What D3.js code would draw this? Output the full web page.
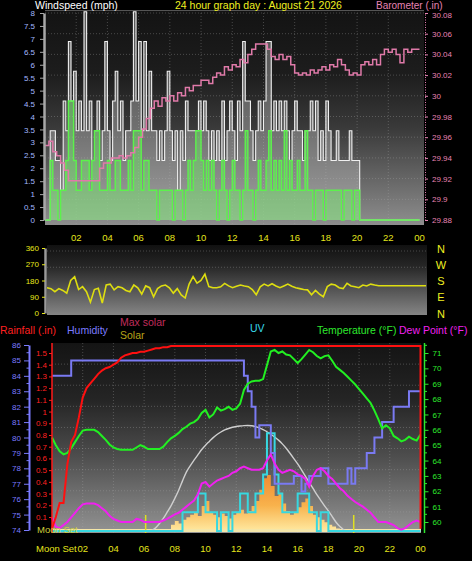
<!DOCTYPE html>
<html><head><meta charset="utf-8">
<script src="https://cdn.jsdelivr.net/npm/d3@7/dist/d3.min.js"></script>
<style>
html,body{margin:0;padding:0;background:#000;}
svg{display:block;}
text{font-family:"Liberation Sans",Arial,sans-serif;}
</style></head><body>
<svg id="chart" width="472" height="561"></svg>
<script>
// ================= DATA =================
const windStepMinutes = 10;
const windGust = [
0,0,3.45,3.45,2.3,2.3,1.15,4.6,3.45,6.9,
4.6,5.75,3.45,4.6,3.45,8.05,3.45,4.6,2.3,3.45,
4.6,2.3,3.45,6.9,3.45,2.3,4.6,5.75,3.45,4.6,
2.3,3.45,3.45,4.6,8.05,4.6,6.9,3.45,6.9,3.45,
5.75,3.45,3.45,2.3,3.45,2.3,3.45,5.75,3.45,2.3,
3.45,1.15,3.45,2.3,4.6,3.45,3.45,3.45,3.45,4.6,
3.45,4.6,3.45,2.3,3.45,2.3,3.45,2.3,4.6,2.3,
3.45,4.6,3.45,2.3,4.6,3.45,6.9,4.6,4.6,3.45,
2.3,3.45,4.6,3.45,4.6,6.9,6.9,3.45,4.6,3.45,
4.6,3.45,4.6,3.45,2.3,3.45,4.6,3.45,3.45,2.3,
3.45,3.45,4.6,3.45,4.6,2.3,3.45,2.3,4.6,3.45,
2.3,2.3,3.45,2.3,2.3,2.3,2.3,3.45,2.3,2.3,
2.3,0,0,0,0,0,0,0,0,0,
0,0,0,0,0,0,0,0,0,0,
0,0,0,0,0];
const windAvg = [
0,0,2.3,1.15,1.15,0,1.15,1.15,2.3,4.6,
4.6,2.3,1.15,1.15,2.3,2.3,2.3,1.15,2.3,3.45,
3.45,1.15,1.15,1.15,2.3,1.15,1.15,2.3,2.3,1.15,
1.15,1.15,2.3,1.15,3.45,3.45,3.45,1.15,2.3,2.3,
1.15,1.15,1.15,0,1.15,1.15,1.15,1.15,1.15,0,
1.15,1.15,1.15,0,1.15,2.3,1.15,2.3,3.45,3.45,
2.3,1.15,2.3,1.15,2.3,1.15,0,1.15,2.3,1.15,
0,1.15,2.3,1.15,1.15,0,1.15,3.45,1.15,1.15,
0,1.15,2.3,1.15,1.15,2.3,3.45,1.15,2.3,1.15,
2.3,1.15,3.45,1.15,2.3,1.15,1.15,2.3,1.15,1.15,
3.45,1.15,1.15,0,1.15,1.15,1.15,0,1.15,1.15,
1.15,1.15,1.15,1.15,0,1.15,1.15,1.15,0,1.15,
1.15,0,0,0,0,0,0,0,0,0,
0,0,0,0,0,0,0,0,0,0,
0,0,0,0,0];

const stepMinutes = 15;
const barometer = [
29.952,29.956,29.946,29.942,29.935,29.928,29.918,29.918,29.918,29.918,
29.918,29.918,29.918,29.918,29.930,29.935,29.935,29.940,29.940,29.942,
29.940,29.942,29.945,29.950,29.960,29.968,29.978,29.988,29.995,29.990,
29.998,29.995,30.000,29.995,30.003,30.000,30.008,30.005,30.010,30.010,
30.015,30.015,30.012,30.018,30.022,30.020,30.028,30.025,30.030,30.028,
30.035,30.032,30.040,30.045,30.050,30.050,30.050,30.045,30.038,30.035,
30.040,30.035,30.038,30.030,30.022,30.020,30.022,30.020,30.025,30.022,
30.025,30.028,30.025,30.030,30.028,30.035,30.030,30.025,30.020,30.022,
30.020,30.030,30.033,30.030,30.035,30.030,30.040,30.045,30.042,30.045,
30.040,30.032,30.045,30.042,30.045,30.045,30.045];

const windDirection = [
140,135,118,135,125,110,180,201,130,146,
118,60,130,137,55,155,160,128,146,140,
125,118,155,140,105,150,140,90,135,150,
155,140,110,135,100,83,160,201,165,180,
215,146,140,140,145,164,150,140,148,155,
150,146,130,101,145,160,150,162,150,140,
150,160,148,140,135,130,128,101,125,105,
90,146,160,155,140,135,164,150,145,140,
155,150,160,155,151,151,151,151,151,151,
151,151,151,151,151,151,151];

const rainfall = [
0,0.10,0.22,0.22,0.55,0.74,0.80,0.95,1.12,1.20,
1.24,1.28,1.32,1.35,1.37,1.38,1.40,1.42,1.46,1.48,
1.49,1.50,1.50,1.51,1.51,1.52,1.53,1.54,1.54,1.55,
1.55,1.56,1.56,1.56,1.56,1.56,1.56,1.56,1.56,1.56,
1.56,1.56,1.56,1.56,1.56,1.56,1.56,1.56,1.56,1.56,
1.56,1.56,1.56,1.56,1.56,1.56,1.56,1.56,1.56,1.56,
1.56,1.56,1.56,1.56,1.56,1.56,1.56,1.56,1.56,1.56,
1.56,1.56,1.56,1.56,1.56,1.56,1.56,1.56,1.56,1.56,
1.56,1.56,1.56,1.56,1.56,1.56,1.56,1.56,1.56,1.56,
1.56,1.56,1.56,1.56,1.56,1.56,1.56];
const rainfallAfterReset = 0;

const humidity = [
84,84,84,84,84,85,85,85,85,85,
85,85,85,85,85,85,85,85,85,85,
85,85,85,85,85,85,85,85,85,85,
85,85,85,85,85,85,85,85,85,85,
85,85,85,85,85,85,85,85,85,85,
84,83,82,80,80.8,80.8,80.8,79,77,77,
77,77,77,77.5,77.5,76.5,77,77.5,77.5,77.5,
78,78,77,77,77,77,77,78,77,78,
78,78,79,79,80,80,81,81,81,82,
82,82,82,83,83,83,83];

const temperature = [
65.5,65.0,64.6,64.4,64.5,64.8,65.2,65.6,65.95,66.0,
66.0,66.0,65.85,65.6,65.35,65.05,64.85,64.75,64.7,64.7,
64.7,64.7,64.85,65.0,64.9,64.75,64.75,64.75,64.75,64.9,
65.2,65.45,65.6,65.8,66.05,66.2,66.4,66.5,66.7,67.1,
67.3,66.8,67.0,67.45,67.25,67.35,67.5,67.3,67.4,67.7,
68.6,69.0,69.15,69.2,69.2,69.3,70.2,71.1,71.2,71.0,
71.1,70.9,70.85,70.6,70.35,70.6,70.9,71.2,71.05,70.8,
70.65,70.8,70.85,70.5,70.1,69.9,69.7,69.45,69.2,68.95,
68.65,68.35,68.05,67.75,67.25,66.7,66.1,66.3,66.1,65.6,
65.45,65.25,65.35,65.55,65.4,65.3,65.7];

const dewPoint = [
60.3,59.7,59.6,59.8,60.0,60.3,60.6,60.9,61.15,61.2,
61.2,61.2,61.1,60.9,60.7,60.4,60.2,60.1,60.0,60.0,
60.0,60.0,60.2,60.15,60.0,60.0,60.0,60.0,60.0,60.1,
60.2,60.35,60.5,60.6,60.8,61.0,61.2,61.4,61.8,62.5,
62.6,62.3,62.5,62.7,62.8,62.9,63.0,63.2,63.3,63.5,
63.6,63.5,63.4,63.4,63.4,63.5,64.0,64.4,63.8,63.4,
63.2,63.3,63.4,63.3,63.1,63.0,62.8,62.3,63.0,63.4,
63.5,63.3,63.0,62.8,62.5,62.2,62.0,61.7,61.5,61.3,
61.15,61.0,60.8,60.6,60.3,60.0,60.0,60.0,59.9,59.8,
59.6,59.5,59.6,59.8,60.0,60.1,60.0];

const maxSolar = [
0,0,0,0,0,0,0,0,0,0,
0,0,0,0,0,0,0,0,0,0,
0,0,0,0,0,0,5,25,60,100,
150,200,260,325,400,470,520,565,608,650,
685,715,745,770,790,806,818,828,834,838,
841,842,840,833,822,808,792,772,750,725,
695,660,620,578,535,487,438,388,340,290,
245,200,160,115,70,35,10,0,0,0,
0,0,0,0,0,0,0,0,0,0,
0,0,0,0,0,0,0];

const solar = [
0,0,0,0,0,0,0,0,0,0,
0,0,0,0,0,0,0,0,0,0,
0,0,0,0,0,0,0,0,0,0,
15,50,80,60,90,110,130,150,120,200,
240,150,130,110,140,120,100,130,150,170,
140,160,200,240,330,420,447,360,280,300,
220,160,130,150,190,230,260,200,130,110,
90,70,50,35,20,10,0,0,0,0,
0,0,0,0,0,0,0,0,0,0,
0,0,0,0,0,0,0];

const uvIndex = [
0,0,0,0,0,0,0,0,0,0,
0,0,0,0,0,0,0,0,0,0,
0,0,0,0,0,0,0,0,0,0,
0,0,0,0,1,1,1,1,2,2,
1,1,1,0,1,1,0,1,1,2,
2,1,1,2,2,3,5.2,5.2,3,2,
1,1,1,1,2,2,2,1,1,0,
1,1,0,0,0,0,0,0,0,0,
0,0,0,0,0,0,0,0,0,0,
0,0,0,0,0,0,0];

const sunEvents = [6.1, 19.65];
const hourTicks = [2,4,6,8,10,12,14,16,18,20,22,24];
const hourLabels = ['02','04','06','08','10','12','14','16','18','20','22','00'];
const windTicks = [0,0.5,1,1.5,2,2.5,3,3.5,4,4.5,5,5.5,6,6.5,7,7.5,8];
const baroTicks = [29.88,29.9,29.92,29.94,29.96,29.98,30,30.02,30.04,30.06,30.08];
const dirTicks = [0,90,180,270,360];
const dirLetters = ['N','W','S','E','N'];
const dirLetterDeg = [360,270,180,90,0];
const humTicks = [74,75,76,77,78,79,80,81,82,83,84,85,86];
const rainTicks = [0.1,0.2,0.3,0.4,0.5,0.6,0.7,0.8,0.9,1,1.1,1.2,1.3,1.4,1.5];
const tempTicks = [60,61,62,63,64,65,66,67,68,69,70,71];

// ================= DRAW =================
const FONT = '"Liberation Sans",Arial,sans-serif';
const svg = d3.select('#chart');
svg.append('rect').attr('width',472).attr('height',561).attr('fill','#000');
const defs = svg.append('defs');
function vGrad(id, y1, y2, stops){
  const g = defs.append('linearGradient').attr('id',id).attr('gradientUnits','userSpaceOnUse')
    .attr('x1',0).attr('x2',0).attr('y1',y1).attr('y2',y2);
  stops.forEach(s=>g.append('stop').attr('offset',s[0]).attr('stop-color',s[1]));
}
vGrad('gTop',10,225,[[0,'#131313'],[0.3,'#1d1d1d'],[0.55,'#3a3a3a'],[1,'#8e8e8e']]);
vGrad('gDir',245,315,[[0,'#111'],[0.3,'#262626'],[1,'#858585']]);
vGrad('gBot',343,533,[[0,'#141414'],[0.3,'#252525'],[0.6,'#4e4e4e'],[1,'#939393']]);
vGrad('gSolar',474,531,[[0,'#f08a30'],[0.55,'#f8b24c'],[1,'#ffe9a0']]);

const hW = i => i*windStepMinutes/60;
const hS = i => i*stepMinutes/60;

// ---------- TOP: wind + barometer ----------
const xTop = d3.scaleLinear([0,24],[45,419.5]);
const yWind = d3.scaleLinear([0,8],[220,13]);
const yBaro = d3.scaleLinear([29.88,30.08],[220,13]);
svg.append('rect').attr('x',45).attr('y',10).attr('width',379).attr('height',215).attr('fill','url(#gTop)');
const gridC = 'rgba(170,170,170,0.35)';
const gTopGrid = svg.append('g');
gTopGrid.selectAll('line.v').data(hourTicks.slice(0,-1)).join('line')
  .attr('x1',d=>xTop(d)).attr('x2',d=>xTop(d)).attr('y1',10).attr('y2',225)
  .attr('stroke',gridC).attr('stroke-dasharray','1,2');
gTopGrid.selectAll('line.h').data(baroTicks.slice(1)).join('line')
  .attr('x1',45).attr('x2',424).attr('y1',d=>yBaro(d)).attr('y2',d=>yBaro(d))
  .attr('stroke',gridC).attr('stroke-dasharray','1,2');
svg.append('line').attr('x1',45).attr('x2',424).attr('y1',10.5).attr('y2',10.5).attr('stroke','#555');

const gustArea = d3.area().x((d,i)=>xTop(hW(i))).y0(yWind(0)).y1(d=>yWind(d)).curve(d3.curveStepAfter);
const gustLine = d3.line().x((d,i)=>xTop(hW(i))).y(d=>yWind(d)).curve(d3.curveStepAfter);
svg.append('path').attr('d',gustArea(windGust)).attr('fill','rgba(200,200,200,0.38)');
svg.append('path').attr('d',gustLine(windGust)).attr('fill','none').attr('stroke','#f0f0f0').attr('stroke-width',1.1);
svg.append('path').attr('d',gustArea(windAvg)).attr('fill','rgba(110,240,100,0.42)');
svg.append('path').attr('d',gustLine(windAvg)).attr('fill','none').attr('stroke','#5cf24c').attr('stroke-width',1.4);

const baroLine = d3.line().x((d,i)=>xTop(hS(i))).y(d=>yBaro(d)).curve(d3.curveStepAfter);
svg.append('path').attr('d',baroLine(barometer)).attr('fill','none').attr('stroke','#e07aa9').attr('stroke-width',1.5);

function styleAxis(g,color,size,lineColor){
  g.attr('font-family',FONT).attr('font-size',size);
  g.select('.domain').attr('stroke',lineColor||color);
  g.selectAll('.tick line').attr('stroke',lineColor||color);
  g.selectAll('.tick text').attr('fill',color);
}
const axWind = svg.append('g').attr('transform','translate(44,0)')
  .call(d3.axisLeft(yWind).tickValues(windTicks).tickSize(4).tickPadding(5).tickSizeOuter(0).tickFormat(d=>String(d)));
styleAxis(axWind,'#a3b8ff',8,'#a8a8a8');
axWind.select('.domain').attr('stroke-width',2.5);
const axBaro = svg.append('g').attr('transform','translate(425,0)')
  .call(d3.axisRight(yBaro).tickValues(baroTicks).tickSize(3).tickPadding(4).tickSizeOuter(0).tickFormat(d=>String(+d.toFixed(2))));
styleAxis(axBaro,'#e683b3',8);
axBaro.select('.domain').attr('stroke-dasharray','1,1.5');
axBaro.selectAll('.tick text').filter(d=>d===30.08).attr('dy','0.55em');

svg.append('g').selectAll('text').data(hourTicks).join('text')
  .attr('x',d=>xTop(d)).attr('y',241).attr('text-anchor','middle')
  .attr('fill','#e4e41c').attr('font-size',9.5).text((d,i)=>hourLabels[i]);

svg.append('text').attr('x',35).attr('y',9).attr('fill','#ffffff').attr('font-size',10.5).text('Windspeed (mph)');
svg.append('text').attr('x',175).attr('y',9).attr('fill','#f0f020').attr('font-size',10.5).text('24 hour graph day : August 21 2026');
svg.append('text').attr('x',376).attr('y',8.5).attr('fill','#e683b3').attr('font-size',10).text('Barometer (.in)');

// ---------- WIND DIRECTION ----------
const xDir = d3.scaleLinear([0,24],[47,426]);
const yDir = d3.scaleLinear([0,360],[313,248]);
svg.append('rect').attr('x',47).attr('y',245).attr('width',380).attr('height',70).attr('fill','url(#gDir)');
const gDirGrid = svg.append('g');
gDirGrid.selectAll('line.h').data([270,360]).join('line')
  .attr('x1',47).attr('x2',427).attr('y1',d=>yDir(d)+3).attr('y2',d=>yDir(d)+3)
  .attr('stroke',gridC).attr('stroke-dasharray','1,2');
const dirLine = d3.line().x((d,i)=>xDir(hS(i))).y(d=>yDir(d));
svg.append('path').attr('d',dirLine(windDirection)).attr('fill','none').attr('stroke','#dede10').attr('stroke-width',1.6);
const axDir = svg.append('g').attr('transform','translate(45,0)')
  .call(d3.axisLeft(yDir).tickValues(dirTicks).tickSize(3).tickPadding(3).tickSizeOuter(0));
styleAxis(axDir,'#e8e81a',8,'#9a9a9a');
axDir.select('.domain').attr('stroke-width',2.5);
axDir.selectAll('.tick line').attr('stroke','#e8e81a');
svg.append('g').selectAll('text').data(dirLetters).join('text')
  .attr('x',441).attr('y',(d,i)=>yDir(dirLetterDeg[i])+4.5).attr('text-anchor','middle')
  .attr('fill','#f0f020').attr('font-size',11).text(d=>d);

// ---------- BOTTOM CHART ----------
const xBot = d3.scaleLinear([0,24],[52,420.5]);
const yHum = d3.scaleLinear([74,86],[530,345]);
const yRain = d3.scaleLinear([0,1.5],[528.7,353]);
const yTemp = d3.scaleLinear([60,71],[522,353]);
const ySolar = d3.scaleLinear([0,1500],[531,343]);
const yUV = d3.scaleLinear([0,10],[531,343]);

svg.append('rect').attr('x',52).attr('y',343).attr('width',369).attr('height',190).attr('fill','url(#gBot)');
const gBotGrid = svg.append('g');
gBotGrid.selectAll('line.v').data(hourTicks.slice(0,-1)).join('line')
  .attr('x1',d=>xBot(d)).attr('x2',d=>xBot(d)).attr('y1',343).attr('y2',533)
  .attr('stroke',gridC).attr('stroke-dasharray','1,2');
gBotGrid.selectAll('line.h').data(d3.range(1,9)).join('line')
  .attr('x1',52).attr('x2',421).attr('y1',d=>343+d*190/9).attr('y2',d=>343+d*190/9)
  .attr('stroke',gridC).attr('stroke-dasharray','1,2');

// solar
const solarArea = d3.area().x((d,i)=>xBot(hS(i))).y0(ySolar(0)).y1(d=>ySolar(d)).curve(d3.curveStepAfter);
svg.append('path').attr('d',solarArea(solar)).attr('fill','url(#gSolar)');
svg.append('line').attr('x1',xBot(0)).attr('x2',421).attr('y1',ySolar(0)-0.5).attr('y2',ySolar(0)-0.5)
  .attr('stroke','#f4e6a8').attr('stroke-width',3);
// max solar
const maxSolarLine = d3.line().defined((d,i)=>d>0 || (maxSolar[i+1]>0) || (maxSolar[i-1]>0))
  .x((d,i)=>xBot(hS(i))).y(d=>ySolar(d)).curve(d3.curveMonotoneX);
svg.append('path').attr('d',maxSolarLine(maxSolar)).attr('fill','none').attr('stroke','#cfcfcf').attr('stroke-width',1.4);
// sunrise / sunset markers
svg.append('g').selectAll('line').data(sunEvents).join('line')
  .attr('x1',d=>xBot(d)).attr('x2',d=>xBot(d)).attr('y1',ySolar(0)-16).attr('y2',533)
  .attr('stroke','#e0e020').attr('stroke-width',1.5);
// UV
const uvLine = d3.line().x((d,i)=>xBot(hS(i))).y(d=>yUV(d)).curve(d3.curveStepAfter);
svg.append('path').attr('d',uvLine(uvIndex)).attr('fill','none').attr('stroke','#37d8e0').attr('stroke-width',2);
// humidity
const humLine = d3.line().x((d,i)=>xBot(hS(i))).y(d=>yHum(d)).curve(d3.curveStepAfter);
svg.append('path').attr('d',humLine(humidity)).attr('fill','none').attr('stroke','#7a7af2').attr('stroke-width',2);
// dew point
const tLine = d3.line().x((d,i)=>xBot(hS(i))).y(d=>yTemp(d));
svg.append('path').attr('d',tLine(dewPoint)).attr('fill','none').attr('stroke','#f020f0').attr('stroke-width',2);
// temperature
svg.append('path').attr('d',tLine(temperature)).attr('fill','none').attr('stroke','#22f022').attr('stroke-width',2);
// rainfall (with reset at end)
const rainPts = rainfall.map((v,i)=>[hS(i),v]).concat([[24,rainfallAfterReset]]);
const rainLine = d3.line().x(d=>xBot(d[0])).y(d=>yRain(d[1]));
svg.append('path').attr('d',rainLine(rainPts)).attr('fill','none').attr('stroke','#ff1010').attr('stroke-width',2);

// axes
const axHum = svg.append('g').attr('transform','translate(29,0)')
  .call(d3.axisLeft(yHum).tickValues(humTicks).tickSize(5).tickPadding(3).tickSizeOuter(0));
styleAxis(axHum,'#7b7bff',8);
axHum.select('.domain').attr('stroke-width',2);
const axRain = svg.append('g').attr('transform','translate(52,0)')
  .call(d3.axisLeft(yRain).tickValues(rainTicks).tickSize(3).tickPadding(2).tickSizeOuter(0).tickFormat(d=>String(+d.toFixed(1))));
styleAxis(axRain,'#ff2020',8);
axRain.select('.domain').remove();
svg.append('line').attr('x1',52).attr('x2',52).attr('y1',343).attr('y2',533).attr('stroke','#ff1a1a').attr('stroke-width',1.5);
const axTemp = svg.append('g').attr('transform','translate(424.5,0)')
  .call(d3.axisRight(yTemp).tickValues(tempTicks).tickSize(4).tickPadding(4).tickSizeOuter(0));
styleAxis(axTemp,'#2ee82e',8);
axTemp.select('.domain').remove();
svg.append('line').attr('x1',424.5).attr('x2',424.5).attr('y1',343).attr('y2',533).attr('stroke','#2ee82e').attr('stroke-width',1.5);

// minor ticks
svg.append('g').selectAll('line').data(humTicks.slice(0,-1)).join('line')
  .attr('x1',26.5).attr('x2',29).attr('y1',d=>yHum(d+0.5)).attr('y2',d=>yHum(d+0.5)).attr('stroke','#7b7bff');
svg.append('g').selectAll('line').data(tempTicks).join('line')
  .attr('x1',424.5).attr('x2',427).attr('y1',d=>yTemp(d+0.5)).attr('y2',d=>yTemp(d+0.5)).attr('stroke','#2ee82e');

// bottom x labels
svg.append('g').selectAll('text').data(hourTicks).join('text')
  .attr('x',d=>xBot(d)).attr('y',552).attr('text-anchor','middle')
  .attr('fill','#e4e41c').attr('font-size',9.5).text((d,i)=>hourLabels[i]);
svg.append('text').attr('x',36).attr('y',552).attr('fill','#e4e41c').attr('font-size',9.5).text('Moon Set');
svg.append('text').attr('x',37).attr('y',533).attr('fill','#cfcf3a').attr('font-size',9.5).text('Moon Set');

// bottom titles
svg.append('text').attr('x',0).attr('y',334).attr('fill','#ff2020').attr('font-size',10.5).text('Rainfall (.in)');
svg.append('text').attr('x',67).attr('y',334).attr('fill','#7b7bff').attr('font-size',10.5).text('Humidity');
svg.append('text').attr('x',120).attr('y',326).attr('fill','#c02c5c').attr('font-size',10.5).text('Max solar');
svg.append('text').attr('x',120).attr('y',339).attr('fill','#b8a418').attr('font-size',10.5).text('Solar');
svg.append('text').attr('x',250).attr('y',332).attr('fill','#37d8e8').attr('font-size',10.5).text('UV');
svg.append('text').attr('x',317).attr('y',334).attr('fill','#2ee82e').attr('font-size',10.5).text('Temperature (°F)');
svg.append('text').attr('x',399).attr('y',334).attr('fill','#f020f0').attr('font-size',10.5).text('Dew Point (°F)');
</script>
</body></html>
